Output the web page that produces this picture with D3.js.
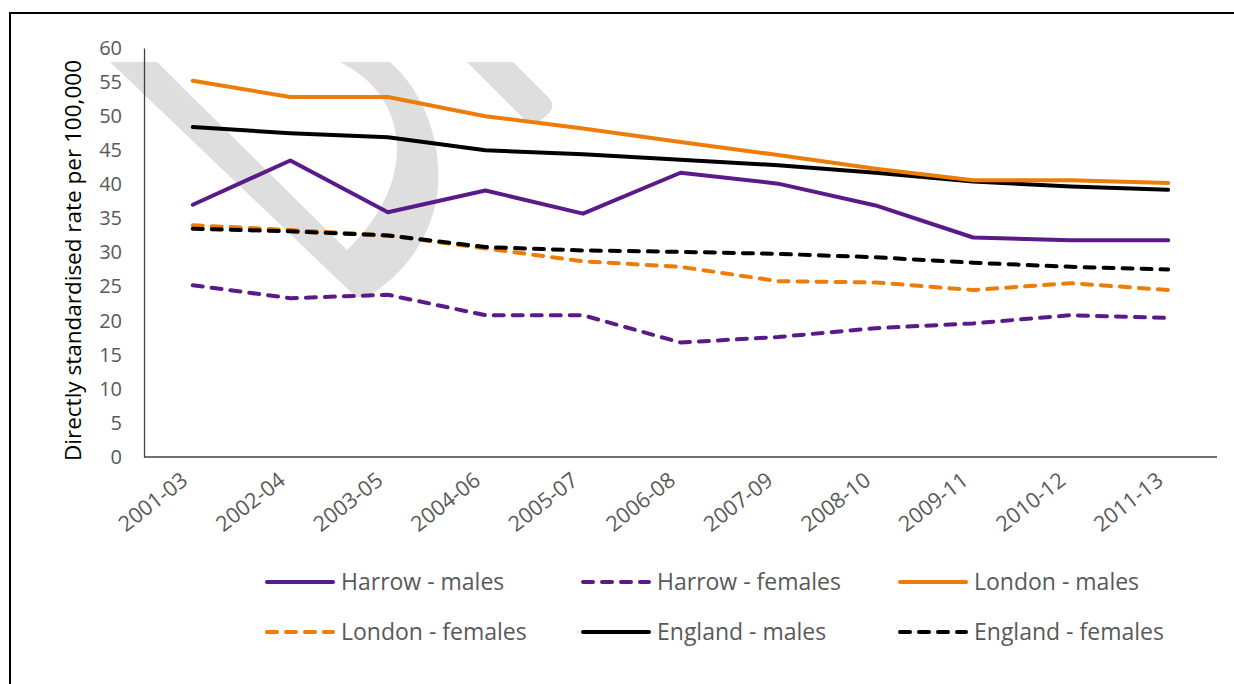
<!DOCTYPE html>
<html><head><meta charset="utf-8">
<script src="https://cdn.jsdelivr.net/npm/d3@7"></script>
<style>
html,body{margin:0;padding:0;background:#fff;}
svg{display:block;font-family:"Open Sans",sans-serif;}
</style></head>
<body>
<svg id="c" width="1234" height="684"></svg>
<script>
const categories = ["2001-03","2002-04","2003-05","2004-06","2005-07","2006-08","2007-09","2008-10","2009-11","2010-12","2011-13"];
const harrowMales   = [37.0,43.5,35.9,39.1,35.7,41.7,40.1,36.9,32.2,31.8,31.8];
const harrowFemales = [25.2,23.3,23.8,20.8,20.8,16.8,17.6,18.9,19.6,20.8,20.4];
const londonMales   = [55.2,52.8,52.8,50.0,48.2,46.2,44.3,42.3,40.6,40.6,40.2];
const londonFemales = [34.0,33.3,32.5,30.6,28.7,27.9,25.8,25.6,24.5,25.5,24.5];
const englandMales  = [48.4,47.5,46.9,45.0,44.4,43.6,42.8,41.7,40.4,39.7,39.2];
const englandFemales= [33.5,33.1,32.5,30.8,30.3,30.1,29.8,29.3,28.5,27.9,27.5];
const yTicks = [0,5,10,15,20,25,30,35,40,45,50,55,60];
const seriesNames = ["Harrow - males","Harrow - females","London - males","London - females","England - males","England - females"];
const yTitle = "Directly standardised rate per 100,000";

const PURPLE = "#5B1A8A", ORANGE = "#ED7D0A", BLACK = "#000000";
const FONT = "'Open Sans',sans-serif";
const series = [
  {name: seriesNames[0], values: harrowMales,   color: PURPLE, dashed: false},
  {name: seriesNames[1], values: harrowFemales, color: PURPLE, dashed: true},
  {name: seriesNames[2], values: londonMales,   color: ORANGE, dashed: false},
  {name: seriesNames[3], values: londonFemales, color: ORANGE, dashed: true},
  {name: seriesNames[4], values: englandMales,  color: BLACK,  dashed: false},
  {name: seriesNames[5], values: englandFemales,color: BLACK,  dashed: true}
];

const svg = d3.select("#c");
// outer frame
svg.append("rect").attr("x",10).attr("y",13).attr("width",1240).attr("height",700)
  .attr("fill","none").attr("stroke","#000").attr("stroke-width",2);

const pLeft = 144, pRight = 1217, pTop = 48, pBottom = 457;
const x = d3.scalePoint().domain(categories).range([pLeft,pRight]).padding(0.5);
const y = d3.scaleLinear().domain([0,60]).range([pBottom,pTop]);

// watermark
const wm = svg.append("g").attr("fill","#dedede");
wm.append("path").attr("d",
  "M110,62 L157,62 L347,250 C378,220 402,180 396,135 C391,100 368,76 340,62 L390,62 " +
  "C425,92 446,150 436,202 C426,248 398,278 367,297 L356,297 Z");
wm.append("path").attr("d",
  "M467,62 L513,62 L549,98 Q556,106 549,113 L540,121 Q533,127 525,120 Z");

// axes
const yAxis = d3.axisLeft(y).tickValues(yTicks).tickSize(0).tickPadding(22);
const gy = svg.append("g").attr("transform",`translate(${pLeft},0)`).call(yAxis);
gy.select(".domain").attr("stroke","#404040").attr("stroke-width",1.3);
gy.selectAll("text").attr("font-size",20).attr("fill","#595959").attr("font-family",FONT);

const xAxis = d3.axisBottom(x).tickSize(0).tickPadding(0);
const gx = svg.append("g").attr("transform",`translate(0,${pBottom})`).call(xAxis);
gx.select(".domain").attr("d",`M${pLeft},0H${pRight}`).attr("stroke","#404040").attr("stroke-width",1.3);
gx.selectAll("text").attr("font-size",21.5).attr("fill","#595959").attr("font-family",FONT)
  .attr("text-anchor","end").attr("dy",0)
  .attr("transform","translate(-4,26) rotate(-38)");

// y title
svg.append("text").attr("transform",`translate(81,${(pTop+pBottom)/2+8}) rotate(-90)`)
  .attr("text-anchor","middle").attr("font-size",22.5).attr("fill","#000")
  .attr("font-family",FONT).text(yTitle);

// lines
const line = d3.line().x((d,i)=>x(categories[i])).y(d=>y(d)).curve(d3.curveLinear);
const drawOrder = [1,3,5,0,4,2];
drawOrder.forEach(k=>{
  const s = series[k];
  svg.append("path").attr("d",line(s.values)).attr("fill","none")
    .attr("stroke",s.color).attr("stroke-width",4)
    .attr("stroke-linejoin","round").attr("stroke-linecap","round")
    .attr("stroke-dasharray",s.dashed?"10,9":null);
});

// legend
const legPos = [[265,582],[581,582],[898,582],[265,632],[581,632],[898,632]];
series.forEach((s,i)=>{
  const [lx,ly] = legPos[i];
  svg.append("line").attr("x1",lx+2).attr("x2",lx+68).attr("y1",ly).attr("y2",ly)
    .attr("stroke",s.color).attr("stroke-width",4).attr("stroke-linecap","round")
    .attr("stroke-dasharray",s.dashed?"10,9":null);
  svg.append("text").attr("x",lx+76).attr("y",ly+8).attr("font-size",23)
    .attr("fill","#595959").attr("font-family",FONT).text(s.name);
});
</script>
</body></html>
